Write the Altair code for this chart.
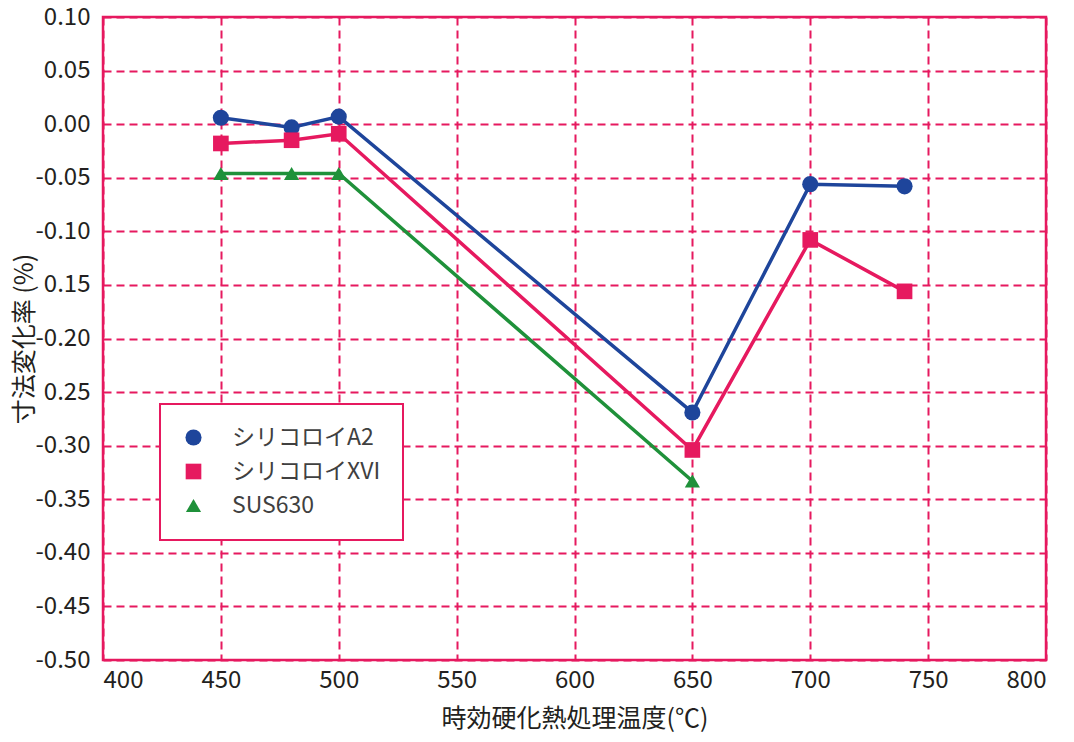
import altair as alt
import pandas as pd

series_names = ["シリコロイA2", "シリコロイXVI", "SUS630"]
series_colors = ["#1E459B", "#E6195F", "#1F913A"]
series_shapes = ["circle", "square", "triangle-up"]
series_sizes = [260, 230, 320]

temps_a2 = [450, 480, 500, 650, 700, 740]
vals_a2 = [0.006, -0.003, 0.007, -0.269, -0.056, -0.058]
temps_xvi = [450, 480, 500, 650, 700, 740]
vals_xvi = [-0.018, -0.015, -0.009, -0.304, -0.108, -0.156]
temps_sus = [450, 480, 500, 650]
vals_sus = [-0.046, -0.046, -0.046, -0.333]

x_ticks = [400, 450, 500, 550, 600, 650, 700, 750, 800]
y_ticks = [0.10, 0.05, 0.00, -0.05, -0.10, -0.15, -0.20, -0.25, -0.30, -0.35, -0.40, -0.45, -0.50]
y_tick_labels = ["0.10", "0.05", "0.00", "-0.05", "-0.10", "0.15", "-0.20", "0.25",
                 "-0.30", "-0.35", "-0.40", "-0.45", "-0.50"]

x_title = "時効硬化熱処理温度(℃)"
y_title = "寸法変化率 (%)"

rows = []
for name, ts, vs in [(series_names[0], temps_a2, vals_a2),
                     (series_names[1], temps_xvi, vals_xvi),
                     (series_names[2], temps_sus, vals_sus)]:
    for t, v in zip(ts, vs):
        rows.append({"series": name, "temp": t, "value": v})
df = pd.DataFrame(rows)

FONT = "Noto Sans CJK JP"
PINK = "#E6195F"
TEXT = "#231F20"

label_arr = "[" + ",".join("'%s'" % s for s in y_tick_labels) + "]"
label_expr = label_arr + "[round((0.10 - datum.value) / 0.05)]"

x_enc = alt.X("temp:Q",
              scale=alt.Scale(domain=[400, 800], nice=False, zero=False),
              axis=alt.Axis(values=x_ticks, title=x_title, format="d"))
y_enc = alt.Y("value:Q",
              scale=alt.Scale(domain=[-0.50, 0.10], nice=False, zero=False),
              axis=alt.Axis(values=y_ticks, title=y_title, labelExpr=label_expr))

color_scale = alt.Scale(domain=series_names, range=series_colors)
shape_scale = alt.Scale(domain=series_names, range=series_shapes)
size_scale = alt.Scale(domain=series_names, range=series_sizes)

lines = alt.Chart(df).mark_line(strokeWidth=3.5).encode(
    x=x_enc, y=y_enc,
    stroke=alt.Stroke("series:N", scale=color_scale, legend=None),
    detail="series:N",
)

leg = alt.Legend(title=None, orient="none", legendX=57, legendY=387)
points = alt.Chart(df).mark_point(filled=True, opacity=1).encode(
    x=x_enc, y=y_enc,
    color=alt.Color("series:N", scale=color_scale, legend=leg),
    shape=alt.Shape("series:N", scale=shape_scale, legend=leg),
    size=alt.Size("series:N", scale=size_scale, legend=None),
)

chart = alt.layer(lines, points).resolve_scale(stroke="independent").properties(
    width=943, height=643,
    padding={"left": 95, "top": 9, "right": 20, "bottom": 74},
    autosize=alt.AutoSizeParams(type="none"),
    background="white",
).configure_view(
    stroke=PINK, strokeWidth=2.5,
).configure_axis(
    grid=True, gridColor=PINK, gridDash=[8, 5], gridWidth=2, gridOpacity=1,
    domain=False, ticks=False,
    labelFont=FONT, labelFontSize=24, labelColor=TEXT,
    titleFont=FONT, titleFontSize=25, titleColor=TEXT, titleFontWeight="normal",
).configure_axisX(
    labelPadding=8, titlePadding=14,
).configure_axisY(
    labelPadding=13, titlePadding=-2,
).configure_legend(
    fillColor="white", strokeColor=PINK, strokeWidth=2,
    padding=22, rowPadding=10, symbolSize=225, symbolStrokeWidth=0,
    labelFont=FONT, labelFontSize=23, labelColor="#404040", labelOffset=27,
)

chart.save("out.html", embed_options={"renderer": "svg", "actions": False})
